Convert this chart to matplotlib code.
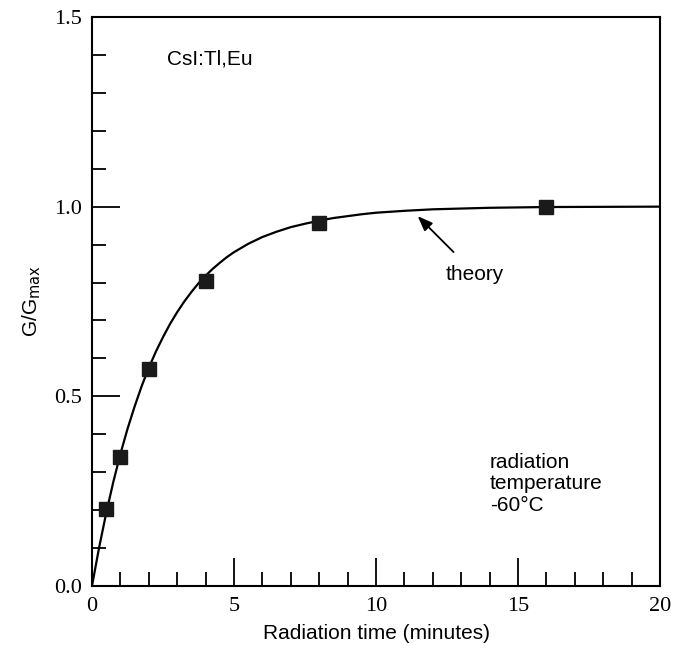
import matplotlib.pyplot as plt
from matplotlib.ticker import MultipleLocator

# measured points (radiation time in minutes, G/Gmax)
t_data = [0.5, 1, 2, 4, 8, 16]
g_data = [0.203, 0.34, 0.573, 0.804, 0.957, 1.0]

# theory curve
t_theory = [0, 0.25, 0.5, 0.75, 1, 1.25, 1.5, 1.75, 2, 2.25, 2.5, 2.75, 3,
            3.25, 3.5, 3.75, 4, 4.25, 4.5, 4.75, 5, 5.5, 6, 6.5, 7, 7.5, 8,
            8.5, 9, 9.5, 10, 11, 12, 13, 14, 15, 16, 18, 20]
g_theory = [0, 0.101, 0.192, 0.274, 0.348, 0.414, 0.473, 0.527, 0.575, 0.618,
            0.656, 0.691, 0.722, 0.750, 0.775, 0.798, 0.818, 0.836, 0.852,
            0.867, 0.880, 0.902, 0.920, 0.934, 0.946, 0.955, 0.963, 0.970,
            0.975, 0.980, 0.984, 0.989, 0.993, 0.995, 0.997, 0.998, 0.999,
            0.9995, 1.0]

serif = "Liberation Serif"
sans = "Liberation Sans"

fig = plt.figure(figsize=(6.89, 6.53), dpi=100)
ax = fig.add_axes([0.1335, 0.1026, 0.8245, 0.8714])

ax.plot(t_theory, g_theory, color="black", lw=1.6)
ax.plot(t_data, g_data, ls="none", marker="s", ms=10, color="#1a1a1a")

ax.set_xlim(0, 20)
ax.set_ylim(0, 1.5)
ax.xaxis.set_major_locator(MultipleLocator(5))
ax.xaxis.set_minor_locator(MultipleLocator(1))
ax.yaxis.set_major_locator(MultipleLocator(0.5))
ax.yaxis.set_minor_locator(MultipleLocator(0.1))
ax.tick_params(which="both", direction="in", width=1.3, top=False, right=False)
ax.tick_params(which="major", length=20)
ax.tick_params(which="minor", length=10)
ax.tick_params(axis="x", pad=8)
ax.tick_params(axis="y", pad=7)
ax.set_yticks([0, 0.5, 1.0, 1.5])
ax.set_yticklabels(["0.0", "0.5", "1.0", "1.5"])
for lab in ax.get_xticklabels() + ax.get_yticklabels():
    lab.set_fontfamily(serif)
    lab.set_fontsize(16)
for s in ax.spines.values():
    s.set_linewidth(1.5)

ax.set_xlabel("Radiation time (minutes)", fontfamily=sans, fontsize=15, labelpad=6)
ax.set_ylabel("G/G$_{\\rm max}$", fontfamily=sans, fontsize=15, labelpad=8)

ax.text(2.65, 1.39, "CsI:Tl,Eu", fontfamily=sans, fontsize=15, va="center")
ax.text(14.0, 0.35, "radiation\ntemperature\n-60°C", fontfamily=sans,
        fontsize=15, va="top", linespacing=1.15)
ax.annotate("", xy=(11.4, 0.98), xytext=(12.8, 0.875),
            arrowprops=dict(arrowstyle="-|>,head_length=0.9,head_width=0.35",
                            color="black", lw=1.3))
ax.text(12.45, 0.82, "theory", fontfamily=sans, fontsize=15, va="center")

fig.savefig("out.png", dpi=100)
